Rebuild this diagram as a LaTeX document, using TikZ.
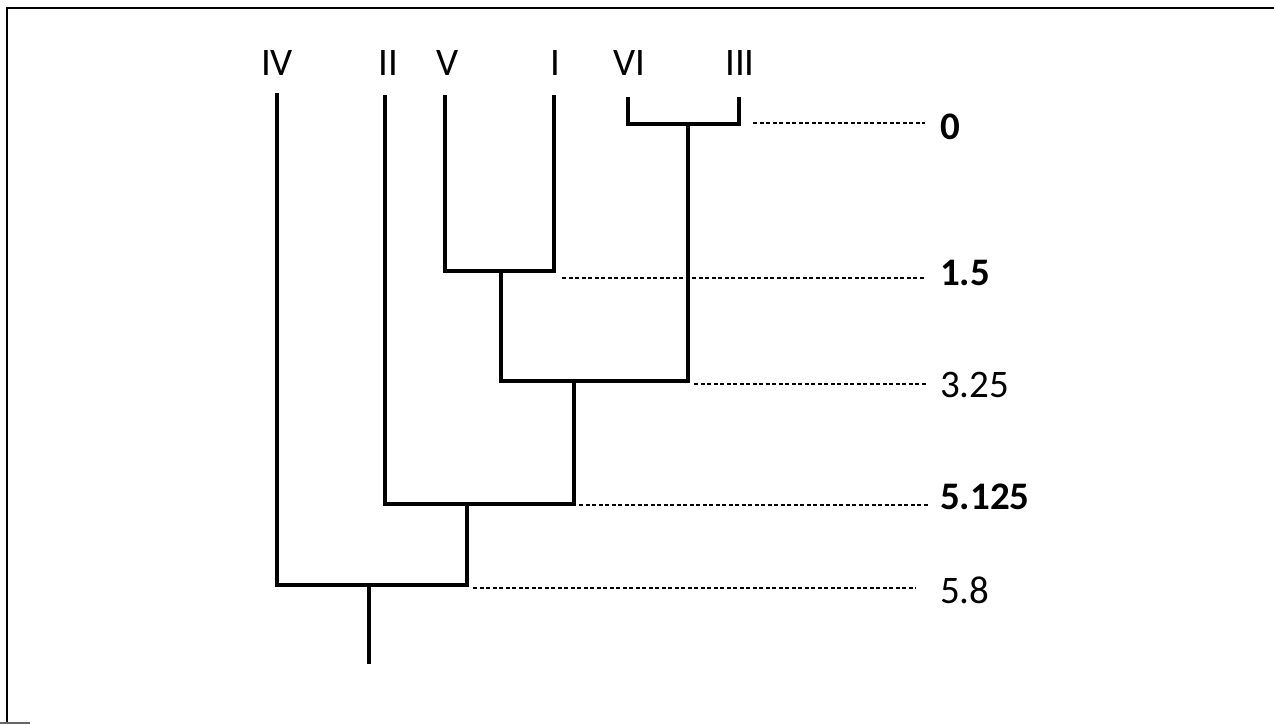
\documentclass[tikz,border=0pt]{standalone}
\usepackage{fontspec}
\setmainfont{Carlito}
\begin{document}
\begin{tikzpicture}[x=1pt,y=-1pt,
  tree/.style={line width=4.6pt,line join=miter,line cap=rect},
  dotline/.style={line width=1.6pt,dash pattern=on 4pt off 2.5pt},
  frameline/.style={line width=2pt},
  leaflab/.style={inner sep=0pt,font=\fontsize{39}{42}\selectfont},
  numlab/.style={inner sep=0pt,anchor=west,font=\fontsize{39}{42}\selectfont}]
\useasboundingbox (0,0) rectangle (1274,725);
% partial frame
\coordinate (fTL) at (7,8);
\coordinate (fTR) at (1274,8);
\coordinate (fBL) at (7,723);
\coordinate (fBS) at (0,723);
\coordinate (fBE) at (30,723);
\draw[frameline] (fTR) -- (fTL) -- (fBL);
\draw[line width=1.5pt,black!60] (fBS) -- (fBE);
% leaf labels
\node[leaflab] (lIV)  at (277,62.5) {IV};
\node[leaflab] (lII)  at (388,62.5) {II};
\node[leaflab] (lV)   at (448,62.5) {V};
\node[leaflab] (lI)   at (555,62.5) {I};
\node[leaflab] (lVI)  at (629,62.5) {VI};
\node[leaflab] (lIII) at (740,62.5) {III};
% leaf tops
\coordinate (tIV)  at (277,95);
\coordinate (tII)  at (385,97);
\coordinate (tV)   at (445,97);
\coordinate (tI)   at (554,97);
\coordinate (tVI)  at (628,99);
\coordinate (tIII) at (739,99);
% junctions
\coordinate (j0)    at (688,124);
\coordinate (j15)   at (501,271);
\coordinate (j325)  at (574,381);
\coordinate (j5125) at (467,504);
\coordinate (j58)   at (369,585);
\coordinate (root)  at (369,662);
% tree
\draw[tree] (tVI) |- (j0) -| (tIII);
\draw[tree] (tV) |- (j15) -| (tI);
\draw[tree] (j15) |- (j325) -| (j0);
\draw[tree] (tII) |- (j5125) -| (j325);
\draw[tree] (tIV) |- (j58) -| (j5125);
\draw[tree] (j58) -- (root);
% level labels
\node[numlab] (n0)    at (940,127) {\bfseries 0};
\node[numlab] (n15)   at (940,273) {\bfseries 1.5};
\node[numlab] (n325)  at (940,385) {3.25};
\node[numlab] (n5125) at (940,497) {\bfseries 5.125};
\node[numlab] (n58)   at (940,590) {5.8};
% dotted guides
\coordinate (s0)    at (753,123);
\coordinate (s15)   at (562,278);
\coordinate (s325)  at (694,384);
\coordinate (s5125) at (579,505);
\coordinate (s58)   at (473,588);
\coordinate (e0)    at (925,123);
\coordinate (e15)   at (925,278);
\coordinate (e325)  at (927,384);
\coordinate (e5125) at (928,505);
\coordinate (e58)   at (916,588);
\draw[dotline] (s0) -- (e0);
\draw[dotline] (s15) -- (e15);
\draw[dotline] (s325) -- (e325);
\draw[dotline] (s5125) -- (e5125);
\draw[dotline] (s58) -- (e58);
\end{tikzpicture}
\end{document}
